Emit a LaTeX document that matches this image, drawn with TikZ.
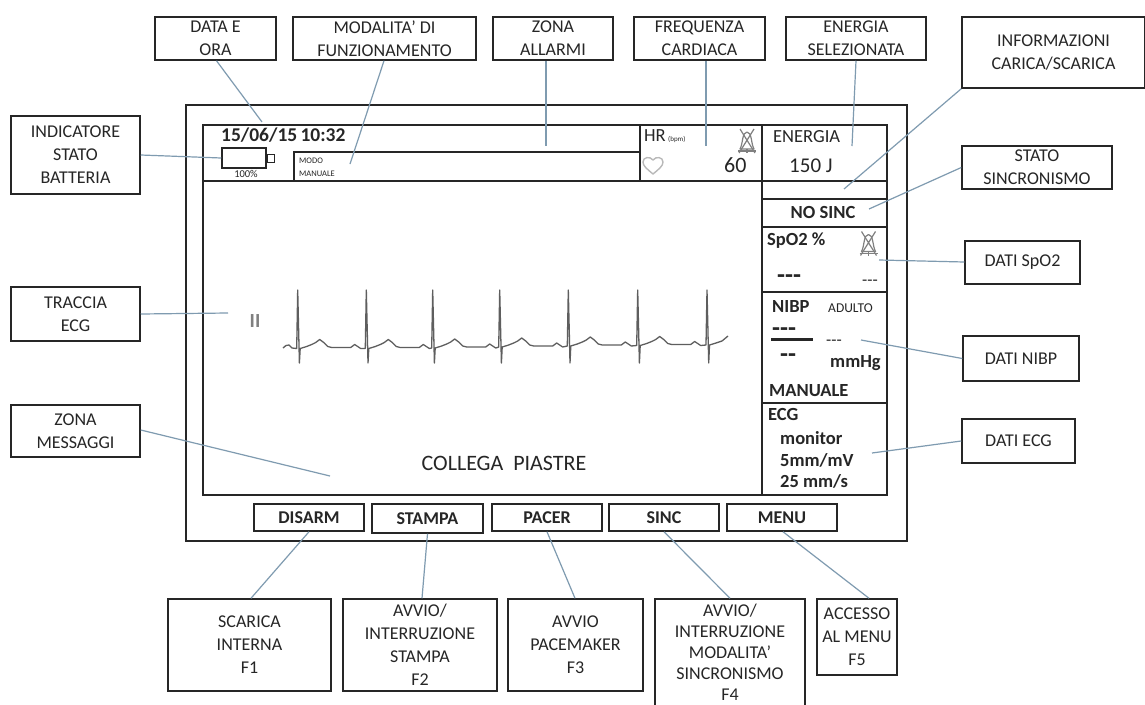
\documentclass[tikz,border=0pt]{standalone}
\usepackage{fontspec}
\setmainfont{Carlito}
\usetikzlibrary{calc}
\definecolor{ink}{HTML}{262626}
\definecolor{wire}{HTML}{7F9BB0}
\definecolor{soft}{HTML}{808080}
\definecolor{trace}{HTML}{5E5E5E}
\newcommand{\fs}[1]{\fontsize{#1}{#1}\selectfont}
% box from corners: name, x0, y0, x1, y1, text
\newcommand{\bx}[7][]{%
  \pgfmathsetmacro{\bw}{#4-#2}\pgfmathsetmacro{\bh}{#5-#3}%
  \pgfmathsetmacro{\bcx}{(#4+#2)/2}\pgfmathsetmacro{\bcy}{(#5+#3)/2}%
  \node[labelbox,minimum width=\bw pt,minimum height=\bh pt,#1] (#6) at (\bcx,\bcy) {#7};}
\begin{document}
\begin{tikzpicture}[x=1pt,y=-1pt,
  labelbox/.style={draw=ink,line width=1.5pt,inner sep=0pt,align=center,text=ink,font=\fs{18},execute at begin node={\setlength{\baselineskip}{23pt}}},
  btnbox/.style={labelbox,font=\fs{18}\bfseries},
  frameline/.style={draw=ink,line width=1.5pt},
  wireline/.style={draw=wire,line width=1.2pt},
  tx/.style={inner sep=0pt,anchor=base west,text=ink,font=\fs{18.5}},
  txb/.style={tx,font=\fs{18.5}\bfseries},
  icon/.style={draw=soft,line width=1.2pt,line join=round}]
\useasboundingbox (0,0) rectangle (1145,704);
\fill[white] (0,0) rectangle (1145,704);

% monitor frames
\node[frameline,minimum width=721pt,minimum height=436pt,inner sep=0pt] (outer) at (546.5,323) {};
\node[frameline,minimum width=684pt,minimum height=370pt,inner sep=0pt] (inner) at (545,310) {};
\draw[frameline] (203,181) coordinate (a1) -- (887,181) coordinate (a2);
\draw[frameline] (640,125) coordinate (a3) -- (640,181) coordinate (a4);
\draw[frameline] (762,125) coordinate (a5) -- (762,495) coordinate (a6);
\draw[frameline] (294,181) coordinate (a7) -- (294,152) coordinate (a8) -- (640,152) coordinate (a9);
\draw[frameline] (762,199) -- (887,199);
\draw[frameline] (762,227) -- (887,227);
\draw[frameline] (762,292) -- (887,292);
\draw[frameline] (762,403) -- (887,403);

% battery
\node[draw=ink,line width=1.5pt,minimum width=44pt,minimum height=20pt,inner sep=0pt] (batt) at (244,158) {};
\node[draw=ink,line width=1pt,minimum width=7pt,minimum height=8pt,inner sep=0pt,anchor=west] (battnub) at (batt.east) {};
\node[tx,font=\fs{10.5},anchor=base] (pct) at (246,177) {100\%};

% top strip text
\node[txb,font=\fs{19.5}\bfseries] (dt) at (221,141) {15/06/15\,10:32};
\node[tx,font=\fs{8.5}] (modo1) at (299,163) {MODO};
\node[tx,font=\fs{8.5}] (modo2) at (299,176) {MANUALE};
\node[tx] (hr) at (644,141) {HR};
\node[tx,font=\fs{7}] (bpm) at (668,141) {(bpm)};
\node[tx,font=\fs{22}] (hrv) at (724,172) {60};
\node[tx] (en) at (773,142) {ENERGIA};
\node[tx,font=\fs{21}] (env) at (789,172) {150 J};
\node[txb,anchor=base] (nosinc) at (823,218) {NO SINC};

% SpO2
\node[txb] (spo) at (767,245) {SpO2 \%};
\node[txb,font=\fs{26}\bfseries] (spv) at (777,283) {-{}-{}-};
\node[tx,font=\fs{17}] (spw) at (862,285) {-{}-{}-};

% NIBP
\node[txb] (nibp) at (772,312) {NIBP};
\node[tx,font=\fs{13.5}] (ad) at (828,312) {ADULTO};
\node[txb,font=\fs{26}\bfseries] (n1) at (772,336) {-{}-{}-};
\draw[ink,line width=3pt] (771,339) coordinate (lineL) -- (813,339) coordinate (lineR);
\node[txb,font=\fs{26}\bfseries] (n2) at (780,362) {-{}-};
\node[tx,font=\fs{17}] (n3) at (826,345) {-{}-{}-};
\node[txb] (mm) at (830,367) {mmHg};
\node[txb] (man) at (769,396) {MANUALE};

% ECG data
\node[txb] (ecgt) at (768,420) {ECG};
\node[txb] (e1) at (780,444) {monitor};
\node[txb] (e2) at (780,466) {5mm/mV};
\node[txb] (e3) at (780,487) {25 mm/s};

% lead and message
\node[tx,font=\fs{20}\bfseries,text=soft,anchor=base] (lead) at (255,327) {II};
\node[tx,font=\fs{22},anchor=base] (msg) at (504,470) {COLLEGA\ \ PIASTRE};

% ECG trace
\draw[draw=trace,line width=1.3pt,line join=round]
  (283,348) -- (286,345.5) -- (289,345) -- (292,348)
  \foreach \rx/\b in {297.7/347.5,366.3/347.5,432.7/347,499.7/346,568.3/345,637.7/344.5} {
    -- (\rx-1,\b+1) -- (\rx,290) -- (\rx+1.7,363) -- (\rx+2.5,\b+1)
    -- (\rx+9,\b-1) -- (\rx+14,\b-3) -- (\rx+18,\b-5) -- (\rx+22,\b-8) -- (\rx+26,\b-5) -- (\rx+30,\b-1) -- (\rx+34,\b)
    -- (\rx+53,\b) -- (\rx+57,\b-3) -- (\rx+60,\b-1) -- (\rx+63,\b+1)
  }
  -- (706,345) -- (707,290) -- (708.7,363) -- (709.5,345) -- (716,343) -- (722,341) -- (728,336);

% heart
\draw[draw=soft!55,line width=1.4pt,line join=round]
  (653,174) coordinate (heartB) .. controls (647,169) and (643,166) .. (643,162)
  .. controls (643,157) and (650,156) .. (653,160)
  .. controls (656,156) and (663,157) .. (663,162)
  .. controls (663,166) and (659,169) .. (653,174) -- cycle;

% silenced alarm icons
\foreach \ix/\iy in {747/141,868.5/243.5} {
  \draw[icon] (\ix-7,\iy+8) .. controls (\ix-4,\iy+3) and (\ix-5,\iy-9) .. (\ix,\iy-9)
     .. controls (\ix+5,\iy-9) and (\ix+4,\iy+3) .. (\ix+7,\iy+8) -- cycle;
  \draw[icon] (\ix-7,\iy-12) -- (\ix+8,\iy+12) (\ix+7,\iy-12) -- (\ix-8,\iy+12);
  \draw[icon] (\ix-9,\iy+10) -- (\ix+9,\iy+10) (\ix,\iy+8) -- (\ix,\iy+12);
}

% label boxes
\bx{155}{17}{276}{60}{dataora}{DATA E\\ORA}
\bx{293}{17}{476}{60}{modalita}{MODALITA’ DI\\FUNZIONAMENTO}
\bx{493}{17}{613}{60}{allarmi}{ZONA\\ALLARMI}
\bx{634}{17}{765}{60}{freq}{FREQUENZA\\CARDIACA}
\bx{786}{17}{926}{60}{energia}{ENERGIA\\SELEZIONATA}
\bx{962}{17}{1145}{88}{info}{INFORMAZIONI\\CARICA/SCARICA}
\bx{962}{146}{1112}{189}{stato}{STATO\\SINCRONISMO}
\bx{11}{116}{140}{194}{indic}{INDICATORE\\STATO\\BATTERIA}
\bx{11}{287}{140}{341}{traccia}{TRACCIA\\ECG}
\bx{11}{405}{140}{457}{messaggi}{ZONA\\MESSAGGI}
\bx{965}{241}{1080}{284}{dspo}{DATI SpO2}
\bx{963}{336}{1079}{381}{dnibp}{DATI NIBP}
\bx{962}{419}{1075}{463}{decg}{DATI ECG}

% soft keys
\bx[btnbox]{254}{504}{364}{531}{kdisarm}{DISARM}
\bx[btnbox]{372}{504}{483}{533}{kstampa}{STAMPA}
\bx[btnbox]{492}{504}{602}{531}{kpacer}{PACER}
\bx[btnbox]{609}{504}{719}{531}{ksinc}{SINC}
\bx[btnbox]{727}{504}{837}{531}{kmenu}{MENU}

% function boxes
\bx{168}{599}{331}{691}{f1}{SCARICA\\[0pt]INTERNA\\F1}
\bx{343}{599}{497}{691}{f2}{AVVIO/\\INTERRUZIONE\\STAMPA\\F2}
\bx{508}{599}{643}{691}{f3}{AVVIO\\PACEMAKER\\F3}
\bx{655}{599}{805}{706}{f4}{AVVIO/\\[-2pt]INTERRUZIONE\\[-2pt]MODALITA’\\[-2pt]SINCRONISMO\\[-2pt]F4}
\bx{817}{599}{897}{675}{f5}{ACCESSO\\AL MENU\\F5}

% connector free ends
\coordinate (cData) at (262,122);
\coordinate (cMod) at (350,164);
\coordinate (cAll) at (546,146);
\coordinate (cFreq) at (706,146);
\coordinate (cEn) at (852,146);
\coordinate (cInfo) at (844,189);
\coordinate (cStato) at (869,209);
\coordinate (cSpo) at (879,260);
\coordinate (cNibp) at (861,340);
\coordinate (cEcg) at (872,453);
\coordinate (cTr) at (228,313);
\coordinate (cMsg) at (330,476);

\draw[wireline] ([xshift=1pt]dataora.south) -- (cData);
\draw[wireline] ([xshift=-0.5pt]modalita.south) -- (cMod);
\draw[wireline] ([xshift=-7pt]allarmi.south) -- (cAll);
\draw[wireline] ([xshift=6.5pt]freq.south) -- (cFreq);
\draw[wireline] (energia.south) -- (cEn);
\draw[wireline] (info.south west) -- (cInfo);
\draw[wireline] (stato.west) -- (cStato);
\draw[wireline] ([yshift=0.5pt]dspo.west) -- (cSpo);
\draw[wireline] (dnibp.west) -- (cNibp);
\draw[wireline] (decg.west) -- (cEcg);
\draw[wireline] (indic.east) -- (batt.west);
\draw[wireline] (traccia.east) -- (cTr);
\draw[wireline] ([yshift=1pt]messaggi.east) -- (cMsg);
\draw[wireline] (kdisarm.south) -- ([xshift=1.5pt]f1.north);
\draw[wireline] (kstampa.south) -- ([xshift=2pt]f2.north);
\draw[wireline] (kpacer.south) -- ([xshift=-0.5pt]f3.north);
\draw[wireline] (ksinc.south) -- (f4.north);
\draw[wireline] ([xshift=1pt]kmenu.south) -- ([xshift=12pt]f5.north);
\end{tikzpicture}
\end{document}
